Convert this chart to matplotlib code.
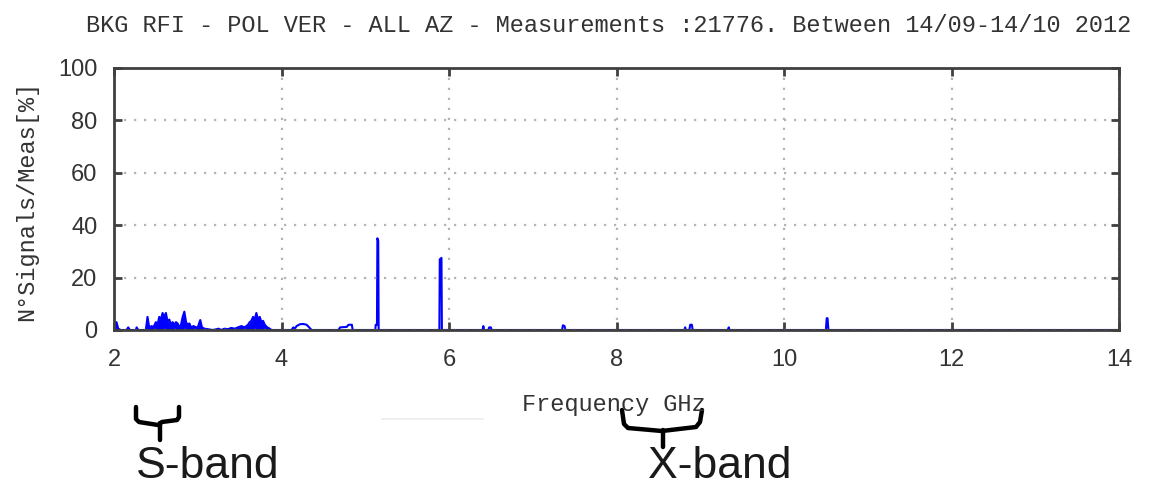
import matplotlib
matplotlib.use('Agg')
import matplotlib.pyplot as plt
from matplotlib.lines import Line2D

W, H = 1159, 492

# Frequency (GHz) / occurrence (%)
freq = [2.00, 2.03, 2.05, 2.08, 2.15, 2.17, 2.19, 2.26, 2.27, 2.29,
        2.38, 2.40, 2.42, 2.45, 2.47, 2.50, 2.52, 2.54, 2.56, 2.58,
        2.60, 2.62, 2.64, 2.66, 2.68, 2.70, 2.72, 2.74, 2.76, 2.78,
        2.80, 2.82, 2.84, 2.86, 2.88, 2.90, 2.92, 2.95, 2.98, 3.00,
        3.03, 3.05, 3.08, 3.12, 3.18, 3.25, 3.28, 3.32, 3.36, 3.40,
        3.44, 3.48, 3.52, 3.56, 3.60, 3.62, 3.64, 3.66, 3.68, 3.70,
        3.72, 3.74, 3.76, 3.78, 3.80, 3.83, 3.86, 3.88,
        4.12, 4.14, 4.16, 4.18, 4.22, 4.26, 4.30, 4.33, 4.36,
        4.68, 4.70, 4.78, 4.80, 4.84, 4.85,
        5.11, 5.12, 5.125, 5.14, 5.145, 5.155, 5.16,
        5.885, 5.89, 5.91, 5.915,
        6.40, 6.41, 6.42, 6.47, 6.48, 6.50, 6.51,
        7.35, 7.36, 7.38, 7.39,
        8.81, 8.82, 8.83, 8.87, 8.88, 8.90, 8.91,
        9.33, 9.34, 9.35,
        10.50, 10.51, 10.52, 10.53,
        14.0]
signals = [2.5, 3.0, 0.5, 0.0, 0.0, 1.0, 0.0, 0.0, 1.0, 0.0,
           0.0, 5.0, 1.0, 1.5, 1.0, 3.0, 2.0, 5.0, 4.0, 6.5,
           5.0, 6.5, 3.0, 4.0, 2.0, 3.0, 2.0, 3.0, 2.5, 1.0,
           2.0, 5.0, 7.0, 3.0, 2.0, 2.5, 1.0, 1.5, 1.0, 1.0,
           3.8, 1.0, 0.5, 0.3, 0.0, 0.5, 0.0, 0.5, 0.3, 0.8,
           0.5, 1.0, 1.5, 1.0, 2.0, 3.0, 3.5, 5.0, 4.0, 6.5,
           4.0, 5.0, 3.0, 3.5, 2.0, 1.0, 0.5, 0.0,
           0.0, 1.0, 0.5, 1.5, 2.2, 2.3, 2.0, 1.0, 0.0,
           0.0, 1.0, 1.2, 2.0, 2.0, 0.0,
           0.0, 0.0, 2.0, 2.0, 35.0, 34.0, 0.0,
           0.0, 27.0, 27.5, 0.0,
           0.0, 1.5, 0.0, 0.0, 1.0, 1.0, 0.0,
           0.0, 1.8, 1.5, 0.0,
           0.0, 1.0, 0.0, 0.0, 2.0, 2.0, 0.0,
           0.0, 1.0, 0.0,
           0.0, 4.5, 4.5, 0.0,
           0.0]

xticks = [2, 4, 6, 8, 10, 12, 14]
yticks = [0, 20, 40, 60, 80, 100]

title = 'BKG RFI - POL VER - ALL AZ - Measurements :21776. Between 14/09-14/10 2012'
mono = 'Liberation Mono'
sans = 'Liberation Sans'
axis_grey = '#404040'


def fx(px):
    return px / W


def fy(py):
    return 1 - py / H


fig = plt.figure(figsize=(W / 100, H / 100), dpi=100)
ax = fig.add_axes([fx(114), fy(330), fx(1119) - fx(114), fy(68) - fy(330)])

# the dense S-band part looks solid in the original
ax.fill_between(freq, signals, 0, where=[f < 3.95 for f in freq],
                color='#0000ff', lw=0, zorder=1)
ax.plot(freq, signals, color='#0000ff', lw=1.5, zorder=1)

ax.set_xlim(2, 14)
ax.set_ylim(0, 100)
ax.set_xticks(xticks)
ax.set_yticks(yticks)
ax.grid(True, color='#b4b4b4', linestyle=(0, (1, 3.5)), lw=1.6)
ax.tick_params(direction='in', length=6, width=2, colors=axis_grey,
               top=True, right=True, labelsize=17, labelcolor='#333333')
ax.tick_params(axis='x', pad=14)
ax.tick_params(axis='y', pad=12)
for lbl in ax.get_xticklabels() + ax.get_yticklabels():
    lbl.set_family(sans)
for s in ax.spines.values():
    s.set_color(axis_grey)
    s.set_linewidth(2.0)
    s.set_zorder(5)

fig.text(fx(609), fy(25), title, family=mono, fontsize=17,
         color='#333333', ha='center', va='center')
fig.text(fx(27), fy(201), 'N°Signals/Meas[%]', family=mono, fontsize=17,
         color='#333333', ha='center', va='center', rotation=90)
fig.text(fx(614), fy(404), 'Frequency GHz', family=mono, fontsize=17,
         color='#333333', ha='center', va='center')
fig.add_artist(Line2D([fx(382), fx(483)], [fy(419), fy(419)],
                      color='#ececec', lw=1.2))

# curly braces marking the bands
s_brace = [[(136, 407), (136, 419), (139, 422), (158, 425), (162, 422), (177, 420), (179, 417), (179, 407)],
           [(160, 423), (160, 440)]]
x_brace = [[(622, 410), (624, 424), (628, 428), (662, 431), (696, 427), (700, 422), (702, 410)],
           [(663, 430), (663, 447)]]
for path in s_brace + x_brace:
    fig.add_artist(Line2D([fx(p[0]) for p in path], [fy(p[1]) for p in path],
                          color='black', lw=3.2, solid_capstyle='round',
                          solid_joinstyle='round'))

fig.text(fx(208), fy(466), 'S-band', family=sans, fontsize=32,
         color='#1a1a1a', ha='center', va='center')
fig.text(fx(720), fy(466), 'X-band', family=sans, fontsize=32,
         color='#1a1a1a', ha='center', va='center')

fig.savefig('out.png', dpi=100)
